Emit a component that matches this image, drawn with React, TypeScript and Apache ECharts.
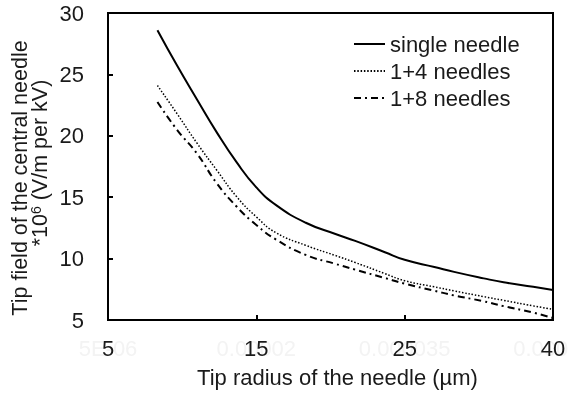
import React, { useEffect, useRef } from "react";
import * as echarts from "echarts";

// tip radius (underlying µm scale of the original sheet)
const radius = [10, 12, 14, 16, 18, 20, 22, 25, 28, 30, 33, 35, 38, 40, 43, 45, 48, 50];
const singleNeedle = [28.6, 25.7, 22.96, 20.28, 17.85, 15.8, 14.35, 12.92, 12.0, 11.44, 10.52, 9.9, 9.32, 8.92, 8.39, 8.07, 7.7, 7.45];
const fourNeedles = [24.1, 21.78, 19.4, 17.2, 15.05, 13.4, 12.1, 11.08, 10.25, 9.68, 8.78, 8.2, 7.7, 7.37, 6.9, 6.6, 6.15, 5.87];
const eightNeedles = [22.75, 20.47, 18.55, 16.13, 14.24, 12.74, 11.55, 10.3, 9.57, 9.1, 8.42, 7.96, 7.38, 7.0, 6.52, 6.13, 5.6, 5.16];

const xTickValues = [5, 20, 35, 50];
const xTickLabels = ["5", "15", "25", "40"];
const xGhostLabels = ["5E-06", "0.00002", "0.000035", "0.00005"];

const seriesNames = ["single needle", "1+4 needles", "1+8 needles"];

const FONT = "'Liberation Sans', Arial, sans-serif";
const INK = "#1a1a1a";

export default function App() {
  const ref = useRef<HTMLDivElement>(null);
  useEffect(() => {
    if (!ref.current) return;
    const chart = echarts.init(ref.current, undefined, { renderer: "svg" });
    const pair = (ys: number[]) => radius.map((x, i) => [x, ys[i]]);
    const labelFor = (arr: string[]) => (v: number) => {
      const i = xTickValues.indexOf(Math.round(v));
      return i >= 0 ? arr[i] : "";
    };
    chart.setOption({
      animation: false,
      textStyle: { fontFamily: FONT },
      grid: {
        left: 108,
        right: 15,
        top: 13,
        bottom: 78,
        outerBoundsMode: "none",
        containLabel: false,
        show: true,
        borderColor: "#000",
        borderWidth: 2,
      },
      legend: {
        orient: "vertical",
        left: 348,
        top: 28,
        itemWidth: 31,
        itemHeight: 14,
        itemGap: 5,
        data: seriesNames,
        itemStyle: { color: "transparent", borderWidth: 0, opacity: 0 },
        textStyle: { fontSize: 22, color: INK, fontFamily: FONT },
      },
      xAxis: [
        {
          type: "value",
          min: 5,
          max: 50,
          interval: 15,
          z: 5,
          splitLine: { show: false },
          axisLine: { show: true, lineStyle: { color: "#000", width: 2 } },
          axisTick: { show: true, inside: true, length: 5, lineStyle: { color: "#000", width: 2 } },
          axisLabel: {
            formatter: labelFor(xTickLabels),
            fontSize: 22,
            color: INK,
            margin: 17,
            fontFamily: FONT,
          },
          name: "Tip radius of the needle (µm)",
          nameLocation: "middle",
          nameGap: 46,
          nameTextStyle: { fontSize: 22, color: INK, fontFamily: FONT, padding: [0, 0, 0, 14] },
        },
        {
          type: "value",
          position: "bottom",
          min: 5,
          max: 50,
          interval: 15,
          z: 1,
          splitLine: { show: false },
          axisLine: { show: false },
          axisTick: { show: false },
          axisLabel: {
            formatter: labelFor(xGhostLabels),
            fontSize: 22,
            color: "#f3f3f3",
            margin: 17,
            fontFamily: FONT,
          },
        },
      ],
      yAxis: {
        type: "value",
        min: 5,
        max: 30,
        interval: 5,
        splitLine: { show: false },
        axisLine: { show: true, lineStyle: { color: "#000", width: 2 } },
        axisTick: { show: true, inside: true, length: 5, lineStyle: { color: "#000", width: 2 } },
        axisLabel: { fontSize: 22, color: INK, margin: 24, fontFamily: FONT },
      },
      graphic: [
        {
          type: "text",
          x: 20,
          y: 178,
          rotation: Math.PI / 2,
          style: {
            text: "Tip field of the central needle",
            fontSize: 21.5,
            fontFamily: FONT,
            fill: INK,
            align: "center",
            verticalAlign: "middle",
          },
        },
        {
          type: "text",
          x: 40,
          y: 163,
          rotation: Math.PI / 2,
          style: {
            text: "*10{sup|6} (V/m per kV)",
            fontSize: 21.5,
            fontFamily: FONT,
            fill: INK,
            align: "center",
            verticalAlign: "middle",
            rich: {
              sup: { fontSize: 14, fontFamily: FONT, fill: INK, verticalAlign: "top", padding: [0, 0, 9, 0] },
            },
          },
        },
      ],
      series: [
        {
          name: seriesNames[0],
          type: "line",
          data: pair(singleNeedle),
          smooth: 0.5,
          symbol: "none",
          lineStyle: { color: "#000", width: 2, type: "solid" },
          itemStyle: { color: "#000" },
        },
        {
          name: seriesNames[1],
          type: "line",
          data: pair(fourNeedles),
          smooth: 0.5,
          symbol: "none",
          lineStyle: { color: "#000", width: 1.5, type: [1.5, 1.8] },
          itemStyle: { color: "#000" },
        },
        {
          name: seriesNames[2],
          type: "line",
          data: pair(eightNeedles),
          smooth: 0.5,
          symbol: "none",
          lineStyle: { color: "#000", width: 2, type: [7, 4, 2, 4] },
          itemStyle: { color: "#000" },
        },
      ],
    });
    return () => chart.dispose();
  }, []);
  return (
    <div style={{ position: "fixed", left: 0, top: 0, width: 568, height: 398, overflow: "hidden" }}>
      <div ref={ref} style={{ width: 568, height: 398 }} />
    </div>
  );
}
